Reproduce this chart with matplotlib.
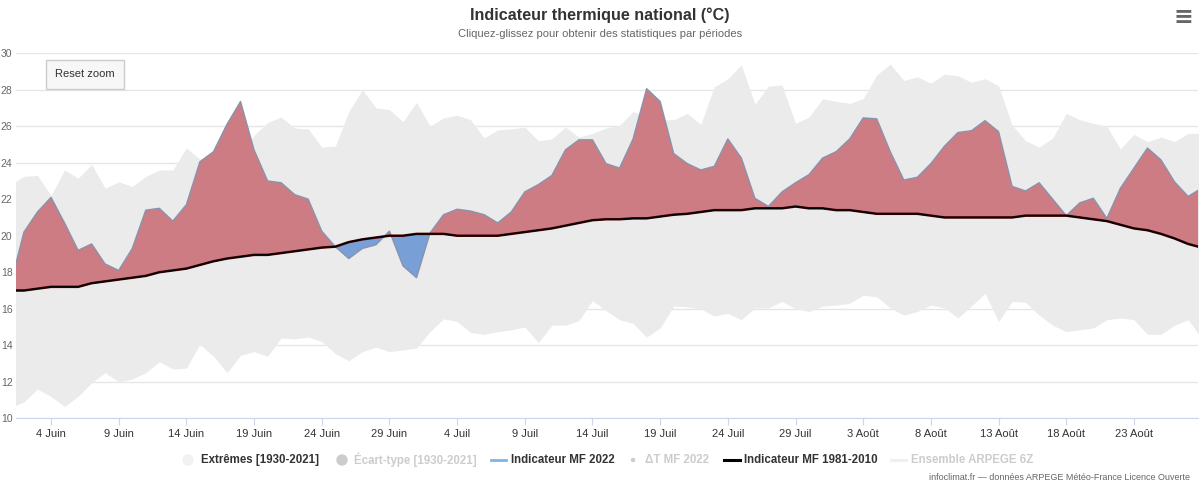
import numpy as np
import matplotlib
matplotlib.use('Agg')
import matplotlib.pyplot as plt
from matplotlib.lines import Line2D
from matplotlib.patches import Ellipse

# daily values, day 0 = 1 June 2022
mf2022 = [17.3, 20.2, 21.3, 22.1, 20.7, 19.2, 19.55, 18.45, 18.1, 19.3,
          21.4, 21.5, 20.8, 21.7, 24.05, 24.6, 26.1, 27.35, 24.7, 23.0,
          22.9, 22.25, 22.0, 20.25, 19.4, 18.75, 19.3, 19.5, 20.25, 18.35,
          17.7, 20.15, 21.15, 21.45, 21.35, 21.15, 20.7, 21.3, 22.4, 22.8,
          23.3, 24.7, 25.25, 25.25, 23.95, 23.7, 25.3, 28.05, 27.35, 24.5,
          23.95, 23.6, 23.8, 25.3, 24.25, 22.05, 21.6, 22.4, 22.9, 23.35,
          24.25, 24.6, 25.3, 26.45, 26.4, 24.6, 23.05, 23.2, 23.95, 24.9,
          25.65, 25.75, 26.3, 25.7, 22.7, 22.45, 22.9, 22.0, 21.1, 21.8,
          22.05, 20.95, 22.6, 23.7, 24.8, 24.15, 22.95, 22.15, 22.6]

normale = [17.0, 17.0, 17.1, 17.2, 17.2, 17.2, 17.4, 17.5, 17.6, 17.7,
           17.8, 18.0, 18.1, 18.2, 18.4, 18.6, 18.75, 18.85, 18.95, 18.95,
           19.05, 19.15, 19.25, 19.35, 19.4, 19.65, 19.8, 19.9, 20.0, 20.0,
           20.1, 20.1, 20.1, 20.0, 20.0, 20.0, 20.0, 20.1, 20.2, 20.3,
           20.4, 20.55, 20.7, 20.85, 20.9, 20.9, 20.95, 20.95, 21.05, 21.15,
           21.2, 21.3, 21.4, 21.4, 21.4, 21.5, 21.5, 21.5, 21.6, 21.5,
           21.5, 21.4, 21.4, 21.3, 21.2, 21.2, 21.2, 21.2, 21.1, 21.0,
           21.0, 21.0, 21.0, 21.0, 21.0, 21.1, 21.1, 21.1, 21.1, 21.0,
           20.9, 20.8, 20.6, 20.4, 20.3, 20.1, 19.85, 19.55, 19.35]

ext_max = [22.8, 23.25, 23.3, 22.2, 23.6, 23.15, 23.9, 22.6, 22.95, 22.7,
           23.25, 23.6, 23.6, 24.8, 24.2, 24.4, 24.4, 24.45, 25.5, 26.2,
           26.5, 25.9, 25.85, 24.85, 24.9, 26.8, 28.0, 27.0, 26.9, 26.25,
           27.3, 26.0, 26.45, 26.6, 26.35, 25.35, 25.8, 25.85, 25.95, 25.2,
           25.3, 25.95, 25.4, 25.6, 25.9, 26.05, 26.8, 26.5, 26.35, 26.35,
           26.7, 26.1, 28.15, 28.6, 29.35, 27.2, 28.2, 28.25, 26.15, 26.5,
           27.5, 27.35, 27.25, 27.5, 28.8, 29.4, 28.5, 28.7, 28.35, 28.85,
           28.75, 28.4, 28.6, 28.2, 26.05, 25.2, 24.85, 25.35, 26.7, 26.35,
           26.15, 26.0, 24.75, 25.55, 25.15, 25.4, 25.15, 25.6, 25.6]

ext_min = [10.6, 10.9, 11.6, 11.2, 10.65, 11.2, 11.95, 12.5, 12.0, 12.15,
           12.5, 13.1, 12.7, 12.75, 14.05, 13.4, 12.5, 13.45, 13.65, 13.4,
           14.4, 14.35, 14.45, 14.2, 13.55, 13.15, 13.65, 13.9, 13.65, 13.75,
           13.85, 14.75, 15.45, 15.3, 14.7, 14.6, 14.75, 14.85, 15.0, 14.15,
           15.1, 15.1, 15.35, 16.45, 15.9, 15.4, 15.2, 14.45, 14.95, 16.15,
           16.1, 16.0, 15.6, 15.75, 15.4, 16.05, 16.05, 16.4, 16.0, 15.85,
           16.15, 16.2, 16.3, 16.75, 16.65, 16.05, 15.65, 15.85, 16.2, 16.05,
           15.5, 16.15, 16.85, 15.3, 16.4, 16.35, 15.65, 15.1, 14.75, 14.85,
           14.95, 15.4, 15.5, 15.4, 14.6, 14.6, 15.1, 15.4, 14.4]

tick_days = [3, 8, 13, 18, 23, 28, 33, 38, 43, 48, 53, 58, 63, 68, 73, 78, 83]
tick_labels = ['4 Juin', '9 Juin', '14 Juin', '19 Juin', '24 Juin', '29 Juin',
               '4 Juil', '9 Juil', '14 Juil', '19 Juil', '24 Juil', '29 Juil',
               '3 Août', '8 Août', '13 Août', '18 Août', '23 Août']

legend_items = ['Extrêmes [1930-2021]', 'Écart-type [1930-2021]', 'Indicateur MF 2022',
                'ΔT MF 2022', 'Indicateur MF 1981-2010', 'Ensemble ARPEGE 6Z']

plt.rcParams['font.family'] = ['Liberation Sans', 'DejaVu Sans']

days = np.arange(len(mf2022))
mf = np.array(mf2022)
nor = np.array(normale)

fig = plt.figure(figsize=(12, 4.87), dpi=100)
ax = fig.add_axes([0.0133, 0.141, 0.985, 0.750])

ax.fill_between(days, ext_min, ext_max, color='#ebebeb', lw=0, zorder=1)
ax.fill_between(days, nor, mf, where=mf >= nor, interpolate=True,
                color='#cd7c84', lw=0, zorder=2)
ax.fill_between(days, nor, mf, where=mf <= nor, interpolate=True,
                color='#789fd6', lw=0, zorder=2)
ax.plot(days, mf, color='#8893ad', lw=1.0, zorder=3)
ax.plot(days, nor, color='#4a0508', lw=1.8, zorder=4)
ax.plot(days, nor, color='black', lw=1.0, zorder=5)

ax.set_xlim(0.41, 87.73)
ax.set_ylim(10, 30)
ax.set_yticks(range(10, 31, 2))
ax.grid(axis='y', color='#e6e6e6', lw=1, zorder=0)
ax.set_axisbelow(True)
ax.set_xticks(tick_days)
ax.set_xticklabels(tick_labels)
for s in ['top', 'right', 'left']:
    ax.spines[s].set_visible(False)
ax.spines['bottom'].set_color('#ccd6eb')
ax.tick_params(axis='y', length=0, pad=2.5, labelsize=7.5, labelcolor='#666666')
ax.tick_params(axis='x', length=5, color='#ccd6eb', pad=3, labelsize=8, labelcolor='#333333')

fig.text(0.5, 0.968, 'Indicateur thermique national (°C)', ha='center', va='center',
         fontsize=11.6, fontweight='bold', color='#333333')
fig.text(0.5, 0.930, 'Cliquez-glissez pour obtenir des statistiques par périodes',
         ha='center', va='center', fontsize=8, color='#666666')
fig.text(0.9865, 0.966, '≡', ha='center', va='center', fontsize=17,
         fontweight='bold', color='#666666', family='DejaVu Sans')

ax.text(0.0333, 0.9425, 'Reset zoom', transform=ax.transAxes, ha='left', va='center',
        fontsize=8, color='#333333',
        bbox=dict(boxstyle='square,pad=0.85', fc='#f7f7f7', ec='#cccccc', lw=1))

# legend below the chart
ly = 1 - 460 / 487
W = 1200.0
fs = 8.3
fig.add_artist(Ellipse((188 / W, ly), 10 / W, 10 / 487, color='#f2f2f2'))
fig.text(201 / W, ly, legend_items[0], ha='left', va='center', fontsize=fs,
         fontweight='bold', color='#333333')
fig.add_artist(Ellipse((342 / W, ly), 10 / W, 10 / 487, color='#cccccc'))
fig.text(354 / W, ly, legend_items[1], ha='left', va='center', fontsize=fs,
         fontweight='bold', color='#cccccc')
fig.add_artist(Line2D([491 / W, 506 / W], [ly, ly], color='#7cb5ec', lw=2))
fig.text(511 / W, ly, legend_items[2], ha='left', va='center', fontsize=fs,
         fontweight='bold', color='#333333')
fig.add_artist(Ellipse((633 / W, ly), 3 / W, 3 / 487, color='#cccccc'))
fig.text(645 / W, ly, legend_items[3], ha='left', va='center', fontsize=fs,
         fontweight='bold', color='#cccccc')
fig.add_artist(Line2D([724 / W, 740 / W], [ly, ly], color='black', lw=2.2))
fig.text(744 / W, ly, legend_items[4], ha='left', va='center', fontsize=fs,
         fontweight='bold', color='#333333')
fig.add_artist(Line2D([891 / W, 906 / W], [ly, ly], color='#eeeeee', lw=2))
fig.text(911 / W, ly, legend_items[5], ha='left', va='center', fontsize=fs,
         fontweight='bold', color='#cccccc')

fig.text(1190 / W, 1 - 478 / 487, 'infoclimat.fr — données ARPEGE Météo-France Licence Ouverte',
         ha='right', va='center', fontsize=6.5, color='#666666')

fig.savefig('out.png', dpi=100, facecolor='white')
